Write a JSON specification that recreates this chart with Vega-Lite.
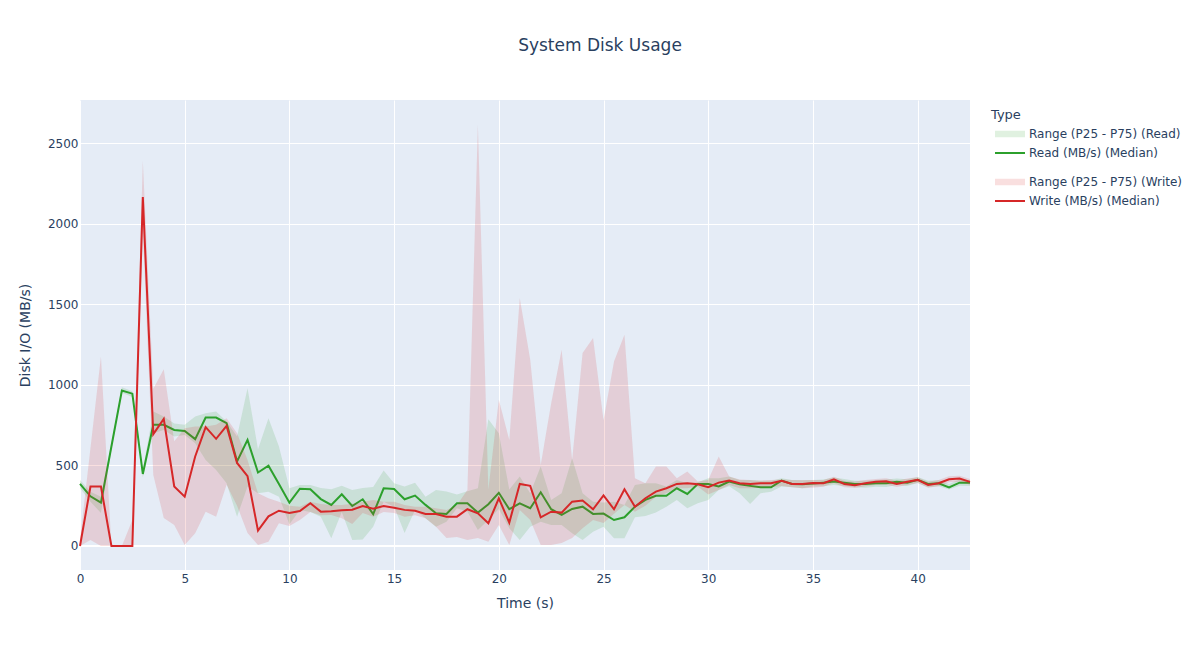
{
  "$schema": "https://vega.github.io/schema/vega-lite/v6.json",
  "width": 890,
  "height": 470,
  "autosize": {"type": "none"},
  "padding": {"left": 80, "top": 100, "right": 230, "bottom": 80},
  "background": "white",
  "title": {"text": "System Disk Usage", "font": "DejaVu Sans", "fontSize": 17, "fontWeight": "normal", "color": "#2a3f5f", "anchor": "middle", "dx": 75, "offset": 32, "baseline": "alphabetic"},
  "config": {
    "font": "DejaVu Sans",
    "view": {"fill": "#E5ECF6", "stroke": null},
    "legend": {"padding": 0, "labelFont": "DejaVu Sans", "labelFontSize": 12, "labelColor": "#2a3f5f", "titleFont": "DejaVu Sans", "titleFontSize": 13, "titleFontWeight": "normal", "titleColor": "#2a3f5f", "labelOffset": 26, "symbolSize": 100}
  },
  "data": {"values": [
    {"t": 0, "rm": 385, "rl": 360, "rh": 410, "wm": 0, "wl": 0, "wh": 37},
    {"t": 0.5, "rm": 308, "rl": 275, "rh": 337, "wm": 369, "wl": 37, "wh": 608},
    {"t": 1, "rm": 269, "rl": 205, "rh": 306, "wm": 369, "wl": 0, "wh": 1176},
    {"t": 1.5, "rm": 617, "rl": 595, "rh": 640, "wm": 0, "wl": 0, "wh": 0},
    {"t": 2, "rm": 965, "rl": 950, "rh": 985, "wm": 0, "wl": 0, "wh": 0},
    {"t": 2.5, "rm": 945, "rl": 925, "rh": 960, "wm": 0, "wl": 0, "wh": 161},
    {"t": 3, "rm": 447, "rl": 425, "rh": 470, "wm": 2165, "wl": 1950, "wh": 2390},
    {"t": 3.5, "rm": 752, "rl": 700, "rh": 835, "wm": 694, "wl": 441, "wh": 975},
    {"t": 4, "rm": 752, "rl": 720, "rh": 803, "wm": 789, "wl": 174, "wh": 1097},
    {"t": 4.5, "rm": 720, "rl": 680, "rh": 760, "wm": 369, "wl": 130, "wh": 650},
    {"t": 5, "rm": 714, "rl": 689, "rh": 752, "wm": 306, "wl": 6, "wh": 731},
    {"t": 5.5, "rm": 663, "rl": 638, "rh": 803, "wm": 555, "wl": 79, "wh": 741},
    {"t": 6, "rm": 797, "rl": 534, "rh": 824, "wm": 737, "wl": 213, "wh": 741},
    {"t": 6.5, "rm": 797, "rl": 472, "rh": 834, "wm": 665, "wl": 182, "wh": 752},
    {"t": 7, "rm": 762, "rl": 389, "rh": 772, "wm": 745, "wl": 380, "wh": 793},
    {"t": 7.5, "rm": 524, "rl": 182, "rh": 679, "wm": 515, "wl": 250, "wh": 700},
    {"t": 8, "rm": 658, "rl": 369, "rh": 979, "wm": 433, "wl": 80, "wh": 534},
    {"t": 8.5, "rm": 456, "rl": 327, "rh": 600, "wm": 95, "wl": 6, "wh": 327},
    {"t": 9, "rm": 498, "rl": 337, "rh": 793, "wm": 184, "wl": 27, "wh": 296},
    {"t": 9.5, "rm": 384, "rl": 306, "rh": 617, "wm": 219, "wl": 141, "wh": 275},
    {"t": 10, "rm": 269, "rl": 135, "rh": 358, "wm": 205, "wl": 124, "wh": 250},
    {"t": 10.5, "rm": 355, "rl": 224, "rh": 379, "wm": 217, "wl": 161, "wh": 244},
    {"t": 11, "rm": 352, "rl": 211, "rh": 379, "wm": 265, "wl": 211, "wh": 275},
    {"t": 11.5, "rm": 291, "rl": 182, "rh": 360, "wm": 213, "wl": 190, "wh": 261},
    {"t": 12, "rm": 255, "rl": 48, "rh": 352, "wm": 215, "wl": 193, "wh": 255},
    {"t": 12.5, "rm": 321, "rl": 211, "rh": 373, "wm": 222, "wl": 172, "wh": 255},
    {"t": 13, "rm": 248, "rl": 37, "rh": 348, "wm": 225, "wl": 137, "wh": 262},
    {"t": 13.5, "rm": 290, "rl": 41, "rh": 360, "wm": 248, "wl": 205, "wh": 275},
    {"t": 14, "rm": 198, "rl": 120, "rh": 366, "wm": 231, "wl": 182, "wh": 286},
    {"t": 14.5, "rm": 358, "rl": 275, "rh": 468, "wm": 248, "wl": 211, "wh": 275},
    {"t": 15, "rm": 353, "rl": 244, "rh": 389, "wm": 237, "wl": 205, "wh": 275},
    {"t": 15.5, "rm": 290, "rl": 80, "rh": 369, "wm": 224, "wl": 182, "wh": 255},
    {"t": 16, "rm": 313, "rl": 224, "rh": 393, "wm": 219, "wl": 190, "wh": 243},
    {"t": 16.5, "rm": 255, "rl": 172, "rh": 306, "wm": 199, "wl": 172, "wh": 244},
    {"t": 17, "rm": 203, "rl": 120, "rh": 348, "wm": 199, "wl": 120, "wh": 234},
    {"t": 17.5, "rm": 199, "rl": 151, "rh": 338, "wm": 182, "wl": 50, "wh": 224},
    {"t": 18, "rm": 265, "rl": 234, "rh": 320, "wm": 182, "wl": 56, "wh": 255},
    {"t": 18.5, "rm": 265, "rl": 213, "rh": 340, "wm": 228, "wl": 37, "wh": 348},
    {"t": 19, "rm": 207, "rl": 99, "rh": 358, "wm": 203, "wl": 50, "wh": 2615},
    {"t": 19.5, "rm": 259, "rl": 161, "rh": 787, "wm": 141, "wl": 27, "wh": 350},
    {"t": 20, "rm": 330, "rl": 230, "rh": 700, "wm": 296, "wl": 130, "wh": 907},
    {"t": 20.5, "rm": 228, "rl": 110, "rh": 350, "wm": 145, "wl": 6, "wh": 658},
    {"t": 21, "rm": 265, "rl": 37, "rh": 431, "wm": 385, "wl": 224, "wh": 1538},
    {"t": 21.5, "rm": 234, "rl": 120, "rh": 327, "wm": 373, "wl": 161, "wh": 1155},
    {"t": 22, "rm": 333, "rl": 151, "rh": 493, "wm": 178, "wl": 6, "wh": 503},
    {"t": 22.5, "rm": 228, "rl": 130, "rh": 286, "wm": 213, "wl": 6, "wh": 886},
    {"t": 23, "rm": 193, "rl": 130, "rh": 327, "wm": 207, "wl": 18, "wh": 1217},
    {"t": 23.5, "rm": 230, "rl": 79, "rh": 545, "wm": 275, "wl": 50, "wh": 534},
    {"t": 24, "rm": 244, "rl": 37, "rh": 327, "wm": 282, "wl": 110, "wh": 1197},
    {"t": 24.5, "rm": 199, "rl": 89, "rh": 275, "wm": 228, "wl": 161, "wh": 1290},
    {"t": 25, "rm": 201, "rl": 120, "rh": 270, "wm": 314, "wl": 143, "wh": 780},
    {"t": 25.5, "rm": 161, "rl": 48, "rh": 275, "wm": 228, "wl": 200, "wh": 1145},
    {"t": 26, "rm": 178, "rl": 48, "rh": 255, "wm": 352, "wl": 255, "wh": 1311},
    {"t": 26.5, "rm": 244, "rl": 178, "rh": 379, "wm": 244, "wl": 213, "wh": 420},
    {"t": 27, "rm": 286, "rl": 186, "rh": 389, "wm": 296, "wl": 250, "wh": 389},
    {"t": 27.5, "rm": 311, "rl": 207, "rh": 389, "wm": 337, "wl": 306, "wh": 493},
    {"t": 28, "rm": 311, "rl": 244, "rh": 369, "wm": 358, "wl": 327, "wh": 493},
    {"t": 28.5, "rm": 358, "rl": 286, "rh": 410, "wm": 385, "wl": 358, "wh": 420},
    {"t": 29, "rm": 323, "rl": 234, "rh": 389, "wm": 389, "wl": 358, "wh": 462},
    {"t": 29.5, "rm": 385, "rl": 265, "rh": 395, "wm": 383, "wl": 369, "wh": 400},
    {"t": 30, "rm": 385, "rl": 286, "rh": 420, "wm": 365, "wl": 320, "wh": 410},
    {"t": 30.5, "rm": 369, "rl": 348, "rh": 420, "wm": 393, "wl": 348, "wh": 555},
    {"t": 31, "rm": 400, "rl": 370, "rh": 431, "wm": 406, "wl": 379, "wh": 431},
    {"t": 31.5, "rm": 383, "rl": 327, "rh": 410, "wm": 389, "wl": 358, "wh": 412},
    {"t": 32, "rm": 373, "rl": 261, "rh": 410, "wm": 385, "wl": 358, "wh": 410},
    {"t": 32.5, "rm": 364, "rl": 327, "rh": 404, "wm": 389, "wl": 362, "wh": 405},
    {"t": 33, "rm": 364, "rl": 337, "rh": 404, "wm": 389, "wl": 365, "wh": 410},
    {"t": 33.5, "rm": 406, "rl": 369, "rh": 420, "wm": 404, "wl": 372, "wh": 412},
    {"t": 34, "rm": 385, "rl": 365, "rh": 410, "wm": 385, "wl": 365, "wh": 410},
    {"t": 34.5, "rm": 383, "rl": 358, "rh": 408, "wm": 385, "wl": 358, "wh": 410},
    {"t": 35, "rm": 387, "rl": 369, "rh": 410, "wm": 391, "wl": 362, "wh": 410},
    {"t": 35.5, "rm": 393, "rl": 370, "rh": 412, "wm": 389, "wl": 368, "wh": 410},
    {"t": 36, "rm": 400, "rl": 378, "rh": 425, "wm": 414, "wl": 390, "wh": 430},
    {"t": 36.5, "rm": 393, "rl": 372, "rh": 415, "wm": 385, "wl": 365, "wh": 405},
    {"t": 37, "rm": 385, "rl": 365, "rh": 405, "wm": 377, "wl": 360, "wh": 400},
    {"t": 37.5, "rm": 385, "rl": 362, "rh": 404, "wm": 389, "wl": 370, "wh": 410},
    {"t": 38, "rm": 389, "rl": 368, "rh": 410, "wm": 398, "wl": 378, "wh": 416},
    {"t": 38.5, "rm": 389, "rl": 366, "rh": 412, "wm": 402, "wl": 382, "wh": 420},
    {"t": 39, "rm": 398, "rl": 378, "rh": 418, "wm": 385, "wl": 366, "wh": 405},
    {"t": 39.5, "rm": 393, "rl": 372, "rh": 414, "wm": 398, "wl": 378, "wh": 418},
    {"t": 40, "rm": 410, "rl": 390, "rh": 428, "wm": 410, "wl": 390, "wh": 426},
    {"t": 40.5, "rm": 385, "rl": 365, "rh": 405, "wm": 379, "wl": 362, "wh": 398},
    {"t": 41, "rm": 389, "rl": 370, "rh": 408, "wm": 389, "wl": 370, "wh": 410},
    {"t": 41.5, "rm": 364, "rl": 350, "rh": 385, "wm": 414, "wl": 395, "wh": 432},
    {"t": 42, "rm": 393, "rl": 374, "rh": 412, "wm": 418, "wl": 398, "wh": 436},
    {"t": 42.5, "rm": 393, "rl": 372, "rh": 410, "wm": 398, "wl": 380, "wh": 415}
  ]},
  "layer": [
    {
      "mark": {"type": "rule", "color": "white", "strokeWidth": 2},
      "encoding": {"y": {"datum": 0, "type": "quantitative", "scale": {"domain": [-149, 2767], "nice": false, "zero": false},
        "axis": {"title": "Disk I/O (MB/s)", "format": "d", "values": [0, 500, 1000, 1500, 2000, 2500], "titleFontSize": 14, "titleColor": "#2a3f5f", "titleFontWeight": "normal", "titlePadding": 15, "labelFontSize": 12, "labelColor": "#2a3f5f", "labelPadding": 2, "ticks": false, "domain": false, "grid": true, "gridColor": "white", "gridWidth": 1, "gridOpacity": 1, "labelFlush": false}}}
    },
    {
      "mark": {"type": "area", "fillOpacity": 0.15},
      "encoding": {
        "x": {"field": "t", "type": "quantitative", "scale": {"domain": [0, 42.5], "nice": false, "zero": false},
          "axis": {"title": "Time (s)", "values": [0, 5, 10, 15, 20, 25, 30, 35, 40], "titleFontSize": 14, "titleColor": "#2a3f5f", "titleFontWeight": "normal", "titlePadding": 12, "labelFontSize": 12, "labelColor": "#2a3f5f", "labelPadding": 3, "ticks": false, "domain": false, "grid": true, "gridColor": "white", "gridWidth": 1, "gridOpacity": 1, "labelFlush": false}},
        "y": {"field": "rl", "type": "quantitative", "title": "Disk I/O (MB/s)"},
        "y2": {"field": "rh"},
        "color": {"datum": "Range (P25 - P75) (Read)", "type": "nominal", "scale": {"range": ["#2ca02c"]},
          "legend": {"title": "Type", "orient": "none", "legendX": 911, "legendY": 9, "titlePadding": 6, "symbolType": "M-0.4,-0.65H5.6V0.65H-0.4Z", "symbolOpacity": 0.15, "symbolStrokeWidth": 0}}
      }
    },
    {
      "mark": {"type": "line", "strokeWidth": 2},
      "encoding": {
        "x": {"field": "t", "type": "quantitative"},
        "y": {"field": "rm", "type": "quantitative", "title": "Disk I/O (MB/s)"},
        "color": {"datum": "Read (MB/s) (Median)", "type": "nominal", "scale": {"range": ["#2ca02c"]},
          "legend": {"title": null, "orient": "none", "legendX": 911, "legendY": 47, "symbolType": "M-0.4,0H5.6", "symbolStrokeWidth": 2}}
      }
    },
    {
      "mark": {"type": "area", "fillOpacity": 0.15},
      "encoding": {
        "x": {"field": "t", "type": "quantitative"},
        "y": {"field": "wl", "type": "quantitative", "title": "Disk I/O (MB/s)"},
        "y2": {"field": "wh"},
        "color": {"datum": "Range (P25 - P75) (Write)", "type": "nominal", "scale": {"range": ["#d62728"]},
          "legend": {"title": null, "orient": "none", "legendX": 911, "legendY": 76, "symbolType": "M-0.4,-0.65H5.6V0.65H-0.4Z", "symbolOpacity": 0.15, "symbolStrokeWidth": 0}}
      }
    },
    {
      "mark": {"type": "line", "strokeWidth": 2},
      "encoding": {
        "x": {"field": "t", "type": "quantitative"},
        "y": {"field": "wm", "type": "quantitative", "title": "Disk I/O (MB/s)"},
        "color": {"datum": "Write (MB/s) (Median)", "type": "nominal", "scale": {"range": ["#d62728"]},
          "legend": {"title": null, "orient": "none", "legendX": 911, "legendY": 95, "symbolType": "M-0.4,0H5.6", "symbolStrokeWidth": 2}}
      }
    }
  ],
  "resolve": {"scale": {"color": "independent"}}
}
